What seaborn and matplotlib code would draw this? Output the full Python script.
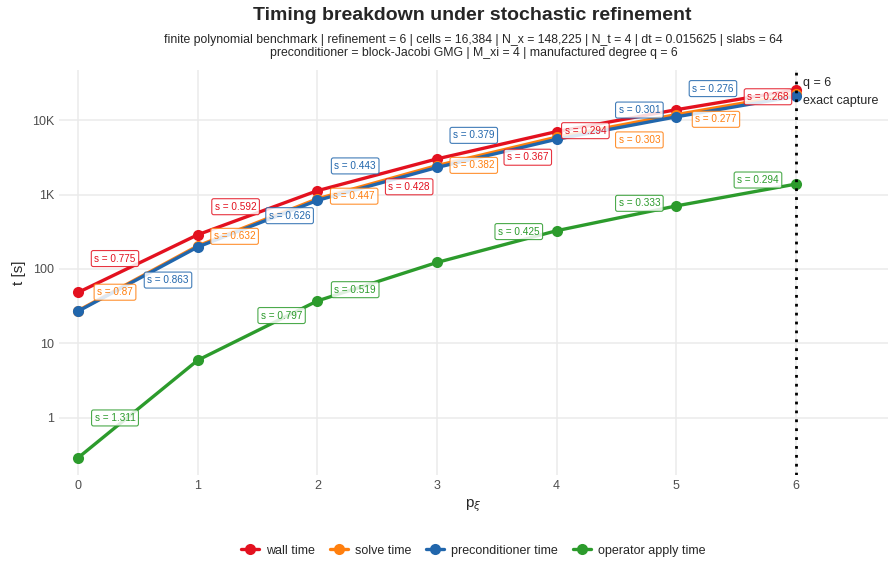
import numpy as np
import pandas as pd
import seaborn as sns
import matplotlib.pyplot as plt
from matplotlib.ticker import FixedLocator, FixedFormatter

# p_xi levels
p_xi = [0, 1, 2, 3, 4, 5, 6]

# timings in seconds
wall_time = [48.3, 288, 1125, 3013, 7015, 13800, 25600]
solve_time = [27.5, 204, 875, 2450, 5900, 11860, 22440]
precond_time = [27.0, 197, 834, 2310, 5530, 11070, 20900]
operator_time = [0.289, 5.92, 37.1, 122, 326, 702, 1380]

# local slope labels per segment
wall_s = [0.775, 0.592, 0.428, 0.367, 0.294, 0.268]
solve_s = [0.87, 0.632, 0.447, 0.382, 0.303, 0.277]
precond_s = [0.863, 0.626, 0.443, 0.379, 0.301, 0.276]
operator_s = [1.311, 0.797, 0.519, 0.425, 0.333, 0.294]

series = ['wall time', 'solve time', 'preconditioner time', 'operator apply time']
colors = ['#E3111F', '#FF7F0E', '#2166AC', '#2C9B2C']

df = pd.concat([
    pd.DataFrame({'p': p_xi, 't': wall_time, 'series': series[0]}),
    pd.DataFrame({'p': p_xi, 't': solve_time, 'series': series[1]}),
    pd.DataFrame({'p': p_xi, 't': precond_time, 'series': series[2]}),
    pd.DataFrame({'p': p_xi, 't': operator_time, 'series': series[3]}),
])

# label offsets (pixels) from each segment midpoint
offsets = {
    series[0]: [(-23, -5), (-22, -6), (32, 12), (31, 12), (-31, 10), (32, -3)],
    series[1]: [(-23, 14), (-23, 14), (-23, 14), (-23, 14), (23, 14), (-20, 15)],
    series[2]: [(30, 1), (32, -8), (-22, -18), (-23, -18), (23, -18), (-23, -18)],
    series[3]: [(-23, 9), (24, -15), (-22, 8), (22, -15), (23, -15), (22, -15)],
}
slopes = {series[0]: wall_s, series[1]: solve_s, series[2]: precond_s, series[3]: operator_s}

sns.set_theme(style='whitegrid')
plt.rcParams['font.family'] = ['Liberation Sans', 'DejaVu Sans']

fig = plt.figure(figsize=(8.95, 5.64), dpi=100)
ax = fig.add_axes([0.066, 0.158, 0.926, 0.718])

sns.lineplot(data=df, x='p', y='t', hue='series', hue_order=series, palette=colors,
             marker='o', markersize=8, markeredgewidth=0, linewidth=2.4, ax=ax)
ax.set_yscale('log')

# slope labels
for name, col in zip(series, colors):
    sub = df[df['series'] == name]
    xs = sub['p'].values
    ts = sub['t'].values
    for i, s in enumerate(slopes[name]):
        xm = (xs[i] + xs[i + 1]) / 2
        ym = np.sqrt(ts[i] * ts[i + 1])
        dx, dy = offsets[name][i]
        ax.annotate(f's = {s}', (xm, ym), xytext=(dx * 0.72, -dy * 0.72),
                    textcoords='offset points', ha='center', va='center',
                    fontsize=7.2, color=col,
                    bbox=dict(boxstyle='round,pad=0.3,rounding_size=0.2', fc='white',
                              ec=col, lw=0.8, alpha=0.85))

ax.axvline(6, color='black', linestyle=(0, (1, 2.2)), linewidth=2)
ax.text(6.06, 10 ** 4.50, 'q = 6', fontsize=9, ha='left', va='center')
ax.text(6.06, 10 ** 4.26, 'exact capture', fontsize=9, ha='left', va='center')

ax.set_xlim(-0.16, 6.77)
ax.set_ylim(10 ** -0.77, 10 ** 4.675)
ax.set_xticks(p_xi)
ax.yaxis.set_major_locator(FixedLocator([1, 10, 100, 1000, 10000]))
ax.yaxis.set_major_formatter(FixedFormatter(['1', '10', '100', '1K', '10K']))
ax.yaxis.set_minor_locator(FixedLocator([]))
ax.tick_params(axis='both', labelsize=9, colors='#4D4D4D', length=0)
ax.grid(True, color='#EBEBEB', linewidth=1.1)
for sp in ax.spines.values():
    sp.set_visible(False)

ax.set_xlabel(r'p$_\xi$', fontsize=11)
ax.set_ylabel('t [s]', fontsize=11)

fig.suptitle('Timing breakdown under stochastic refinement', x=0.528, y=0.988,
             fontsize=14, fontweight='bold')
fig.text(0.529, 0.918, 'finite polynomial benchmark | refinement = 6 | cells = 16,384 | '
         'N_x = 148,225 | N_t = 4 | dt = 0.015625 | slabs = 64\n'
         'preconditioner = block-Jacobi GMG | M_xi = 4 | manufactured degree q = 6',
         ha='center', va='center', fontsize=8.8, linespacing=1.15)

handles, labels = ax.get_legend_handles_labels()
ax.legend(handles, labels, loc='upper center', bbox_to_anchor=(0.5, -0.145), ncol=4,
          frameon=False, fontsize=9, handlelength=1.4, columnspacing=1.2,
          handletextpad=0.6)

fig.savefig('out.png', dpi=100)
